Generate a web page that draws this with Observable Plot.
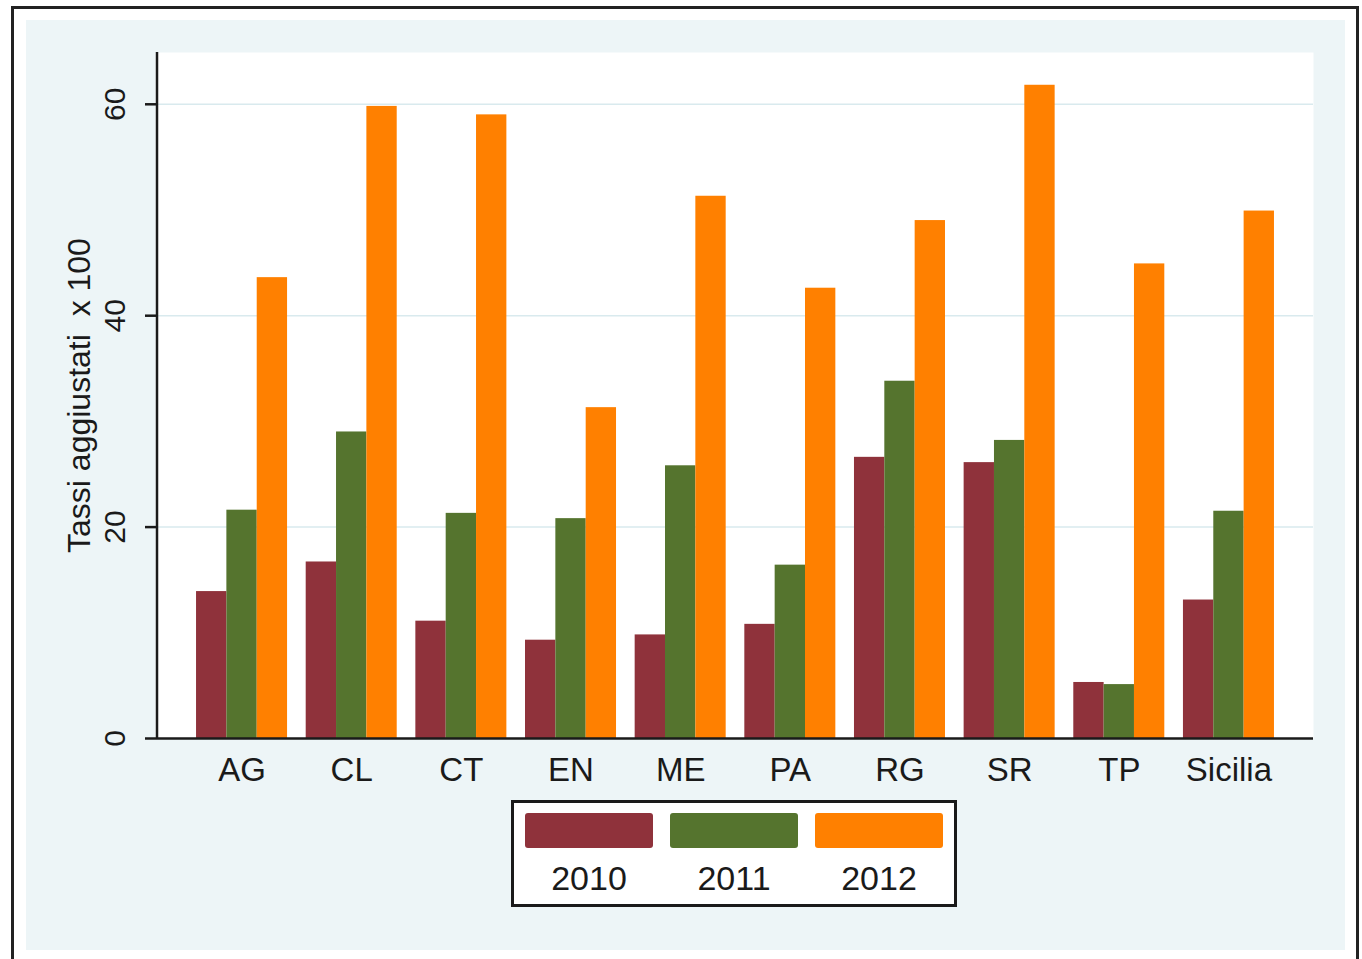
<!DOCTYPE html>
<html>
<head>
<meta charset="utf-8">
<script src="https://cdn.jsdelivr.net/npm/d3@7"></script>
<script src="https://cdn.jsdelivr.net/npm/@observablehq/plot@0.6"></script>
<style>
  html, body { margin: 0; padding: 0; background: #ffffff; }
  #page { position: relative; width: 1362px; height: 959px; overflow: hidden; font-family: "Liberation Sans", Arial, sans-serif; color: #1a1a1a; }
  #outer { position: absolute; left: 11px; top: 6px; width: 1348px; height: 1000px; border: 3px solid #222; box-sizing: border-box; background: #ffffff; }
  #region { position: absolute; left: 26px; top: 20px; width: 1319px; height: 930px; background: #edf5f7; }
  #chart { position: absolute; left: 0; top: 0; }
  #legend { position: absolute; left: 511px; top: 800px; width: 446px; height: 107px; border: 3px solid #1a1a1a; box-sizing: border-box; background: #ffffff; }
  .sw { position: absolute; top: 10px; width: 128px; height: 35px; border-radius: 3px; }
  .lab { position: absolute; width: 128px; text-align: center; font-size: 34px; line-height: 34px; top: 58px; color: #1a1a1a; }
</style>
</head>
<body>
<div id="page">
  <div id="outer"></div>
  <div id="region"></div>
  <div id="chart"></div>
  <div id="legend"></div>
</div>
<script>
// ---- data ----
const regions = ["AG", "CL", "CT", "EN", "ME", "PA", "RG", "SR", "TP", "Sicilia"];
const years = ["2010", "2011", "2012"];
const v2010 = [13.9, 16.7, 11.1, 9.3, 9.8, 10.8, 26.6, 26.1, 5.3, 13.1];
const v2011 = [21.6, 29.0, 21.3, 20.8, 25.8, 16.4, 33.8, 28.2, 5.1, 21.5];
const v2012 = [43.6, 59.8, 59.0, 31.3, 51.3, 42.6, 49.0, 61.8, 44.9, 49.9];
const yTicks = [0, 20, 40, 60];
const gridTicks = [20, 40, 60];
const yTitle = "Tassi aggiustati\u00a0 x 100";
const colors = ["#8f323b", "#55742e", "#ff8000"];

// ---- layout ----
const W = 1362, H = 959;
const mL = 157, mR = 49, mT = 52, mB = 221;
const padIn = 0.17, padOut = 0.356;

const series = [v2010, v2011, v2012];
const rows = series.map((vals, i) => regions.map((r, j) => ({region: r, year: years[i], value: vals[j]})));

const band = d3.scaleBand().domain(regions).range([mL, W - mR]).paddingInner(padIn).paddingOuter(padOut);
const third = band.bandwidth() / 3;

const yAxisLine = (index, scales, values, dims) => {
  const l = document.createElementNS("http://www.w3.org/2000/svg", "line");
  l.setAttribute("x1", dims.marginLeft);
  l.setAttribute("x2", dims.marginLeft);
  l.setAttribute("y1", dims.marginTop);
  l.setAttribute("y2", dims.height - dims.marginBottom);
  l.setAttribute("stroke", "#1a1a1a");
  l.setAttribute("stroke-width", 2.5);
  return l;
};

const barMarks = rows.map((data, i) => Plot.barY(data, {
  x: "region",
  y: "value",
  fill: colors[i],
  insetLeft: i * third,
  insetRight: (2 - i) * third
}));

const plot = Plot.plot({
  width: W,
  height: H,
  marginLeft: mL,
  marginRight: mR,
  marginTop: mT,
  marginBottom: mB,
  style: { background: "transparent", fontFamily: "'Liberation Sans', Arial, sans-serif", color: "#1a1a1a", overflow: "visible" },
  x: { type: "band", domain: regions, paddingInner: padIn, paddingOuter: padOut, round: false, label: null },
  y: { domain: [0, 64.9], label: null },
  marks: [
    Plot.frame({ fill: "white", stroke: "none", insetLeft: -2 }),
    Plot.ruleY(gridTicks, { stroke: "#d9eaee", strokeWidth: 1.5 }),
    ...barMarks,
    Plot.ruleY([0], { stroke: "#1a1a1a", strokeWidth: 2.5 }),
    yAxisLine,
    Plot.axisY({ ticks: yTicks, tickSize: 12, tickFormat: () => "", strokeWidth: 2.5, label: null }),
    Plot.text(yTicks, { y: d => d, text: d => String(d), frameAnchor: "left", textAnchor: "middle", lineAnchor: "middle", dx: -42, rotate: -90, fontSize: 30, fill: "#1a1a1a" }),
    Plot.text([yTitle], { text: d => d, frameAnchor: "left", textAnchor: "middle", lineAnchor: "middle", dx: -78, rotate: -90, fontSize: 32, fill: "#1a1a1a" }),
    Plot.axisX({ tickSize: 0, tickPadding: 19, fontSize: 33, label: null })
  ]
});
document.getElementById("chart").appendChild(plot);

// ---- legend ----
const legend = document.getElementById("legend");
years.forEach((yr, i) => {
  const sw = document.createElement("div");
  sw.className = "sw";
  sw.style.left = (11 + i * 145) + "px";
  sw.style.background = colors[i];
  legend.appendChild(sw);
  const lb = document.createElement("div");
  lb.className = "lab";
  lb.style.left = (11 + i * 145) + "px";
  lb.textContent = yr;
  legend.appendChild(lb);
});
</script>
</body>
</html>
